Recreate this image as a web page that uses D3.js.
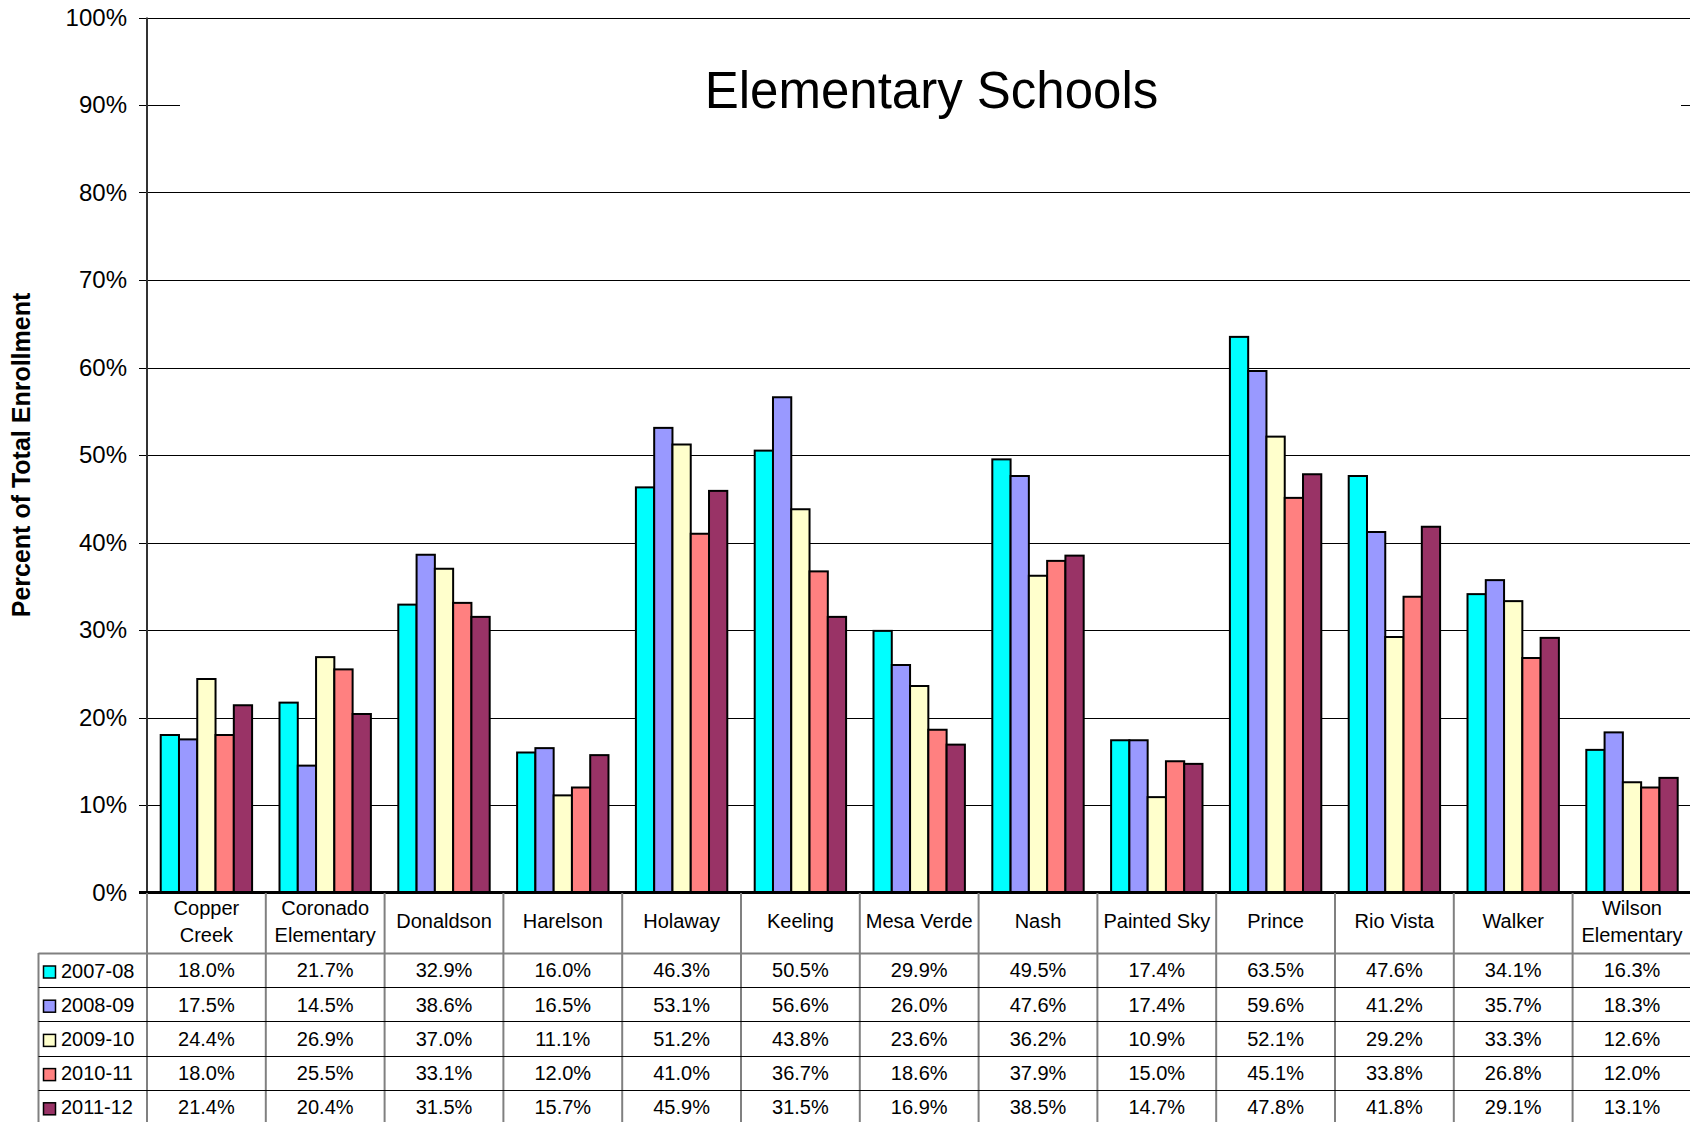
<!DOCTYPE html>
<html>
<head>
<meta charset="utf-8">
<script src="https://cdn.jsdelivr.net/npm/d3@7"></script>
<style>
  html, body { margin: 0; padding: 0; background: #fff; }
  svg { display: block; }
  text { font-family: Arial, "Liberation Sans", sans-serif; fill: #000; }
</style>
</head>
<body>
<svg id="chart" width="1690" height="1122"></svg>
<script>
// ---------- data ----------
const categories = ["Copper\nCreek", "Coronado\nElementary", "Donaldson", "Harelson", "Holaway", "Keeling",
  "Mesa Verde", "Nash", "Painted Sky", "Prince", "Rio Vista", "Walker", "Wilson\nElementary"];
const seriesNames = ["2007-08", "2008-09", "2009-10", "2010-11", "2011-12"];
const seriesColors = ["#00FFFF", "#9999FF", "#FFFFCC", "#FF8080", "#993366"];
const v2007 = [18.0, 21.7, 32.9, 16.0, 46.3, 50.5, 29.9, 49.5, 17.4, 63.5, 47.6, 34.1, 16.3];
const v2008 = [17.5, 14.5, 38.6, 16.5, 53.1, 56.6, 26.0, 47.6, 17.4, 59.6, 41.2, 35.7, 18.3];
const v2009 = [24.4, 26.9, 37.0, 11.1, 51.2, 43.8, 23.6, 36.2, 10.9, 52.1, 29.2, 33.3, 12.6];
const v2010 = [18.0, 25.5, 33.1, 12.0, 41.0, 36.7, 18.6, 37.9, 15.0, 45.1, 33.8, 26.8, 12.0];
const v2011 = [21.4, 20.4, 31.5, 15.7, 45.9, 31.5, 16.9, 38.5, 14.7, 47.8, 41.8, 29.1, 13.1];
const seriesValues = [v2007, v2008, v2009, v2010, v2011];
const yTicks = [0, 10, 20, 30, 40, 50, 60, 70, 80, 90, 100];
const yTickLabels = ["0%", "10%", "20%", "30%", "40%", "50%", "60%", "70%", "80%", "90%", "100%"];
const chartTitle = "Elementary Schools";
const yTitle = "Percent of Total Enrollment";

// ---------- layout ----------
const W = 1690, H = 1122;
const plotLeft = 147, catW = 118.8;
const plotRight = plotLeft + catW * categories.length;
const plotTop = 17.5, plotBottom = 892.5;
const tableLeft = 38.5;
const labelRowBottom = 953;
const rowH = 34.2;

const svg = d3.select("#chart");

const x0 = d3.scaleBand().domain(categories).range([plotLeft, plotRight]).padding(0);
const x1 = d3.scaleBand().domain(seriesNames).range([0, x0.bandwidth()]).paddingInner(0).paddingOuter(0.75);
const y = d3.scaleLinear().domain([0, 100]).range([plotBottom, plotTop]);

// gridlines
svg.append("g").selectAll("line").data(yTicks).join("line")
  .attr("x1", plotLeft - 8).attr("x2", W)
  .attr("y1", d => Math.round(y(d)) + 0.5).attr("y2", d => Math.round(y(d)) + 0.5)
  .attr("stroke", "#000").attr("stroke-width", 1);

// title background box (hides part of 90% gridline) and title
svg.append("rect").attr("x", 180).attr("y", 45).attr("width", 1681 - 180).attr("height", 85).attr("fill", "#fff");
svg.append("text").attr("x", 931.5).attr("y", 108).attr("text-anchor", "middle")
  .attr("font-size", 51).text(chartTitle);

// y tick labels
svg.append("g").selectAll("text").data(yTicks).join("text")
  .attr("x", 127).attr("y", d => y(d)).attr("dy", "0.35em")
  .attr("text-anchor", "end").attr("font-size", 24)
  .text((d, i) => yTickLabels[i]);

// y title
svg.append("text")
  .attr("transform", `translate(30,455) rotate(-90)`)
  .attr("text-anchor", "middle").attr("font-size", 25).attr("font-weight", "bold")
  .text(yTitle);

// bars
const groups = svg.append("g").selectAll("g").data(categories).join("g")
  .attr("transform", d => `translate(${x0(d)},0)`);
groups.selectAll("rect").data((d, ci) => seriesNames.map((s, si) => ({ s, si, v: seriesValues[si][ci] })))
  .join("rect")
  .attr("x", d => x1(d.s)).attr("width", x1.bandwidth())
  .attr("y", d => y(d.v)).attr("height", d => plotBottom - y(d.v))
  .attr("fill", d => seriesColors[d.si])
  .attr("stroke", "#000").attr("stroke-width", 2);

// table vertical lines (gray)
const vLines = categories.map(c => x0(c)).concat([plotRight]);
svg.append("g").selectAll("line").data(vLines).join("line")
  .attr("x1", d => d).attr("x2", d => d)
  .attr("y1", plotBottom).attr("y2", H)
  .attr("stroke", "#808080").attr("stroke-width", 2);
// legend column left border
svg.append("line").attr("x1", tableLeft).attr("x2", tableLeft).attr("y1", labelRowBottom).attr("y2", H)
  .attr("stroke", "#808080").attr("stroke-width", 2);

// table horizontal lines
const rowTops = seriesNames.map((s, i) => labelRowBottom + i * rowH);
svg.append("g").selectAll("line").data(rowTops).join("line")
  .attr("x1", tableLeft).attr("x2", W)
  .attr("y1", d => Math.round(d) + 0.5).attr("y2", d => Math.round(d) + 0.5)
  .attr("stroke", (d, i) => i === 0 ? "#808080" : "#000").attr("stroke-width", (d, i) => i === 0 ? 2 : 1);

// left axis line
svg.append("line").attr("x1", plotLeft).attr("x2", plotLeft).attr("y1", plotTop).attr("y2", plotBottom)
  .attr("stroke", "#333").attr("stroke-width", 2);
// category axis line
svg.append("line").attr("x1", plotLeft - 8).attr("x2", W).attr("y1", plotBottom - 0.5).attr("y2", plotBottom - 0.5)
  .attr("stroke", "#000").attr("stroke-width", 2);

// category labels
const labelMid = 928.3;
svg.append("g").selectAll("text").data(categories).join("text")
  .attr("text-anchor", "middle").attr("font-size", 20)
  .attr("x", d => x0(d) + x0.bandwidth() / 2)
  .each(function (d) {
    const lines = d.split("\n");
    const t = d3.select(this);
    lines.forEach((ln, i) => {
      t.append("tspan").attr("x", x0(d) + x0.bandwidth() / 2)
        .attr("y", labelMid + (i - (lines.length - 1) / 2) * 26.7).text(ln);
    });
  });

// legend keys + series names in table
const leg = svg.append("g").selectAll("g").data(seriesNames).join("g")
  .attr("transform", (d, i) => `translate(0,${rowTops[i]})`);
leg.append("rect").attr("x", 43.5).attr("y", 13).attr("width", 12).attr("height", 12)
  .attr("fill", (d, i) => seriesColors[i]).attr("stroke", "#000").attr("stroke-width", 1.5);
leg.append("text").attr("x", 61).attr("y", 24.5).attr("font-size", 20).text(d => d);

// table values
seriesNames.forEach((s, si) => {
  svg.append("g").selectAll("text").data(categories).join("text")
    .attr("text-anchor", "middle").attr("font-size", 20)
    .attr("x", d => x0(d) + x0.bandwidth() / 2)
    .attr("y", rowTops[si] + 24.3)
    .text((d, ci) => seriesValues[si][ci].toFixed(1) + "%");
});
</script>
</body>
</html>
